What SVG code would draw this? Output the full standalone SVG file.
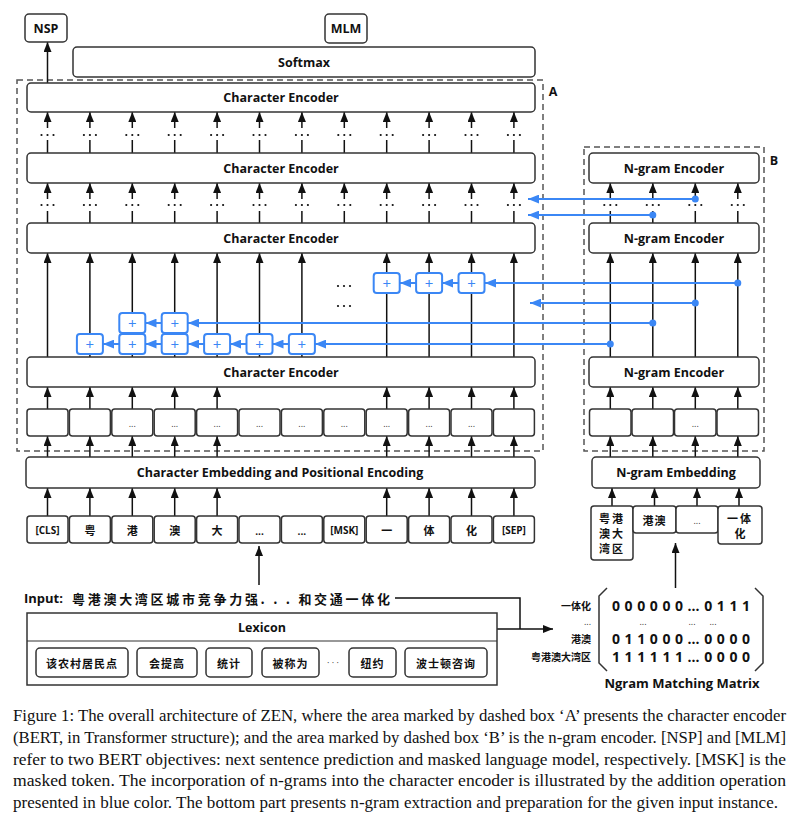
<svg xmlns="http://www.w3.org/2000/svg" width="798" height="813" viewBox="0 0 798 813">
<defs>
<marker id="ah" viewBox="0 0 10 8" refX="10" refY="4" markerWidth="10" markerHeight="8" markerUnits="userSpaceOnUse" orient="auto"><path d="M0,0L10,4L0,8z" fill="#111"/></marker>
<marker id="bh" viewBox="0 0 10 8" refX="10" refY="4" markerWidth="11" markerHeight="9" markerUnits="userSpaceOnUse" orient="auto"><path d="M0,0L10,4L0,8z" fill="#3b87f5"/></marker>
</defs>
<style>
.box{fill:#fff;stroke:#333;stroke-width:1.5}
.dash{fill:none;stroke:#555;stroke-width:1.5;stroke-dasharray:6 4}
.ln{stroke:#111;stroke-width:1.5;fill:none}
.ar{stroke:#111;stroke-width:1.5;fill:none;marker-end:url(#ah)}
.ba{stroke:#3b87f5;stroke-width:2;fill:none;marker-end:url(#bh)}
.pb{fill:#fff;stroke:#3b87f5;stroke-width:2}
.pt{font-family:"Open Sans","Noto Sans",sans-serif;font-size:15px;fill:#3b87f5;text-anchor:middle;dominant-baseline:central}
.dot{fill:#111}
.bd{fill:#3b87f5}
.t{font-family:"Open Sans","Noto Sans",sans-serif;font-weight:700;font-size:12.5px;fill:#111;text-anchor:middle;dominant-baseline:central}
.s{font-family:"Open Sans","Noto Sans",sans-serif;font-weight:700;font-size:10px;fill:#111;text-anchor:middle;dominant-baseline:central}
.e{font-family:"Open Sans","Noto Sans",sans-serif;font-size:9px;fill:#333;text-anchor:middle;dominant-baseline:central}
.c{font-family:"Noto Sans CJK SC","Noto Sans",sans-serif;font-weight:700;font-size:11px;fill:#111;text-anchor:middle;dominant-baseline:central}
.m{font-family:"Open Sans","Noto Sans",sans-serif;font-weight:700;font-size:14px;fill:#111;dominant-baseline:central}
.cap{font-family:"Liberation Serif","Times New Roman",serif;font-size:16px;fill:#111}
</style>

<!-- dashed areas -->
<g id="areaA"><rect class="dash" x="17" y="80" width="526" height="371"/><text class="t" x="553" y="91">A</text></g>
<g id="areaB"><rect class="dash" x="584" y="147" width="180" height="304"/><text class="t" x="774" y="160">B</text></g>

<!-- connectors -->
<g id="connectors">
<line class="ar" x1="47.5" y1="83" x2="47.5" y2="42"/>
<path class="ln" d="M47.5,153V140M89.9,153V140M132.3,153V140M174.7,153V140M217.1,153V140M259.5,153V140M301.9,153V140M344.3,153V140M386.7,153V140M429.1,153V140M471.5,153V140M513.9,153V140"/>
<line class="ar" x1="47.5" y1="128" x2="47.5" y2="112"/>
<line class="ar" x1="89.9" y1="128" x2="89.9" y2="112"/>
<line class="ar" x1="132.3" y1="128" x2="132.3" y2="112"/>
<line class="ar" x1="174.7" y1="128" x2="174.7" y2="112"/>
<line class="ar" x1="217.1" y1="128" x2="217.1" y2="112"/>
<line class="ar" x1="259.5" y1="128" x2="259.5" y2="112"/>
<line class="ar" x1="301.9" y1="128" x2="301.9" y2="112"/>
<line class="ar" x1="344.3" y1="128" x2="344.3" y2="112"/>
<line class="ar" x1="386.7" y1="128" x2="386.7" y2="112"/>
<line class="ar" x1="429.1" y1="128" x2="429.1" y2="112"/>
<line class="ar" x1="471.5" y1="128" x2="471.5" y2="112"/>
<line class="ar" x1="513.9" y1="128" x2="513.9" y2="112"/>
<path class="ln" d="M47.5,223V211M89.9,223V211M132.3,223V211M174.7,223V211M217.1,223V211M259.5,223V211M301.9,223V211M344.3,223V211M386.7,223V211M429.1,223V211M471.5,223V211M513.9,223V211M610.3,223V211M652.8,223V211M695.3,223V211M737.8,223V211"/>
<line class="ar" x1="47.5" y1="199" x2="47.5" y2="183"/>
<line class="ar" x1="89.9" y1="199" x2="89.9" y2="183"/>
<line class="ar" x1="132.3" y1="199" x2="132.3" y2="183"/>
<line class="ar" x1="174.7" y1="199" x2="174.7" y2="183"/>
<line class="ar" x1="217.1" y1="199" x2="217.1" y2="183"/>
<line class="ar" x1="259.5" y1="199" x2="259.5" y2="183"/>
<line class="ar" x1="301.9" y1="199" x2="301.9" y2="183"/>
<line class="ar" x1="344.3" y1="199" x2="344.3" y2="183"/>
<line class="ar" x1="386.7" y1="199" x2="386.7" y2="183"/>
<line class="ar" x1="429.1" y1="199" x2="429.1" y2="183"/>
<line class="ar" x1="471.5" y1="199" x2="471.5" y2="183"/>
<line class="ar" x1="513.9" y1="199" x2="513.9" y2="183"/>
<line class="ar" x1="610.3" y1="199" x2="610.3" y2="183"/>
<line class="ar" x1="652.8" y1="199" x2="652.8" y2="183"/>
<line class="ar" x1="695.3" y1="199" x2="695.3" y2="183"/>
<line class="ar" x1="737.8" y1="199" x2="737.8" y2="183"/>
<line class="ar" x1="47.5" y1="357" x2="47.5" y2="253"/>
<line class="ar" x1="89.9" y1="357" x2="89.9" y2="253"/>
<line class="ar" x1="132.3" y1="357" x2="132.3" y2="253"/>
<line class="ar" x1="174.7" y1="357" x2="174.7" y2="253"/>
<line class="ar" x1="217.1" y1="357" x2="217.1" y2="253"/>
<line class="ar" x1="259.5" y1="357" x2="259.5" y2="253"/>
<line class="ar" x1="301.9" y1="357" x2="301.9" y2="253"/>
<line class="ar" x1="386.7" y1="357" x2="386.7" y2="253"/>
<line class="ar" x1="429.1" y1="357" x2="429.1" y2="253"/>
<line class="ar" x1="471.5" y1="357" x2="471.5" y2="253"/>
<line class="ar" x1="513.9" y1="357" x2="513.9" y2="253"/>
<line class="ar" x1="610.3" y1="357" x2="610.3" y2="253"/>
<line class="ar" x1="652.8" y1="357" x2="652.8" y2="253"/>
<line class="ar" x1="695.3" y1="357" x2="695.3" y2="253"/>
<line class="ar" x1="737.8" y1="357" x2="737.8" y2="253"/>
<path class="ar" d="M47.5,409V387"/><path class="ar" d="M47.5,457V436"/><path class="ar" d="M47.5,516V488"/>
<path class="ar" d="M89.9,409V387"/><path class="ar" d="M89.9,457V436"/><path class="ar" d="M89.9,516V488"/>
<path class="ar" d="M132.3,409V387"/><path class="ar" d="M132.3,457V436"/><path class="ar" d="M132.3,516V488"/>
<path class="ar" d="M174.7,409V387"/><path class="ar" d="M174.7,457V436"/><path class="ar" d="M174.7,516V488"/>
<path class="ar" d="M217.1,409V387"/><path class="ar" d="M217.1,457V436"/><path class="ar" d="M217.1,516V488"/>
<path class="ar" d="M386.7,409V387"/><path class="ar" d="M386.7,457V436"/><path class="ar" d="M386.7,516V488"/>
<path class="ar" d="M429.1,409V387"/><path class="ar" d="M429.1,457V436"/><path class="ar" d="M429.1,516V488"/>
<path class="ar" d="M471.5,409V387"/><path class="ar" d="M471.5,457V436"/><path class="ar" d="M471.5,516V488"/>
<path class="ar" d="M513.9,409V387"/><path class="ar" d="M513.9,457V436"/><path class="ar" d="M513.9,516V488"/>
<path class="ar" d="M610.3,409V387"/><path class="ar" d="M610.3,457V436"/><path class="ar" d="M612,506V488"/>
<path class="ar" d="M652.8,409V387"/><path class="ar" d="M652.8,457V436"/><path class="ar" d="M654.5,506V488"/>
<path class="ar" d="M695.3,409V387"/><path class="ar" d="M695.3,457V436"/><path class="ar" d="M697,506V488"/>
<path class="ar" d="M737.8,409V387"/><path class="ar" d="M737.8,457V436"/><path class="ar" d="M739,506V488"/>
<path class="ar" d="M259,585V546"/>
<path class="ar" d="M675.5,588V543"/>
<path class="ln" d="M395,598H520V629M497,629H520"/>
<path class="ar" d="M520,629H553"/>
</g>

<!-- ellipsis dots -->
<g id="dots" class="dot">
<circle cx="41.5" cy="135" r="1.1"/><circle cx="47.5" cy="135" r="1.1"/><circle cx="53.5" cy="135" r="1.1"/>
<circle cx="83.9" cy="135" r="1.1"/><circle cx="89.9" cy="135" r="1.1"/><circle cx="95.9" cy="135" r="1.1"/>
<circle cx="126.3" cy="135" r="1.1"/><circle cx="132.3" cy="135" r="1.1"/><circle cx="138.3" cy="135" r="1.1"/>
<circle cx="168.7" cy="135" r="1.1"/><circle cx="174.7" cy="135" r="1.1"/><circle cx="180.7" cy="135" r="1.1"/>
<circle cx="211.1" cy="135" r="1.1"/><circle cx="217.1" cy="135" r="1.1"/><circle cx="223.1" cy="135" r="1.1"/>
<circle cx="253.5" cy="135" r="1.1"/><circle cx="259.5" cy="135" r="1.1"/><circle cx="265.5" cy="135" r="1.1"/>
<circle cx="295.9" cy="135" r="1.1"/><circle cx="301.9" cy="135" r="1.1"/><circle cx="307.9" cy="135" r="1.1"/>
<circle cx="338.3" cy="135" r="1.1"/><circle cx="344.3" cy="135" r="1.1"/><circle cx="350.3" cy="135" r="1.1"/>
<circle cx="380.7" cy="135" r="1.1"/><circle cx="386.7" cy="135" r="1.1"/><circle cx="392.7" cy="135" r="1.1"/>
<circle cx="423.1" cy="135" r="1.1"/><circle cx="429.1" cy="135" r="1.1"/><circle cx="435.1" cy="135" r="1.1"/>
<circle cx="465.5" cy="135" r="1.1"/><circle cx="471.5" cy="135" r="1.1"/><circle cx="477.5" cy="135" r="1.1"/>
<circle cx="507.9" cy="135" r="1.1"/><circle cx="513.9" cy="135" r="1.1"/><circle cx="519.9" cy="135" r="1.1"/>
<circle cx="41.5" cy="205" r="1.1"/><circle cx="47.5" cy="205" r="1.1"/><circle cx="53.5" cy="205" r="1.1"/>
<circle cx="83.9" cy="205" r="1.1"/><circle cx="89.9" cy="205" r="1.1"/><circle cx="95.9" cy="205" r="1.1"/>
<circle cx="126.3" cy="205" r="1.1"/><circle cx="132.3" cy="205" r="1.1"/><circle cx="138.3" cy="205" r="1.1"/>
<circle cx="168.7" cy="205" r="1.1"/><circle cx="174.7" cy="205" r="1.1"/><circle cx="180.7" cy="205" r="1.1"/>
<circle cx="211.1" cy="205" r="1.1"/><circle cx="217.1" cy="205" r="1.1"/><circle cx="223.1" cy="205" r="1.1"/>
<circle cx="253.5" cy="205" r="1.1"/><circle cx="259.5" cy="205" r="1.1"/><circle cx="265.5" cy="205" r="1.1"/>
<circle cx="295.9" cy="205" r="1.1"/><circle cx="301.9" cy="205" r="1.1"/><circle cx="307.9" cy="205" r="1.1"/>
<circle cx="338.3" cy="205" r="1.1"/><circle cx="344.3" cy="205" r="1.1"/><circle cx="350.3" cy="205" r="1.1"/>
<circle cx="380.7" cy="205" r="1.1"/><circle cx="386.7" cy="205" r="1.1"/><circle cx="392.7" cy="205" r="1.1"/>
<circle cx="423.1" cy="205" r="1.1"/><circle cx="429.1" cy="205" r="1.1"/><circle cx="435.1" cy="205" r="1.1"/>
<circle cx="465.5" cy="205" r="1.1"/><circle cx="471.5" cy="205" r="1.1"/><circle cx="477.5" cy="205" r="1.1"/>
<circle cx="507.9" cy="205" r="1.1"/><circle cx="513.9" cy="205" r="1.1"/><circle cx="519.9" cy="205" r="1.1"/>
<circle cx="604.3" cy="205" r="1.1"/><circle cx="610.3" cy="205" r="1.1"/><circle cx="616.3" cy="205" r="1.1"/>
<circle cx="646.8" cy="205" r="1.1"/><circle cx="652.8" cy="205" r="1.1"/><circle cx="658.8" cy="205" r="1.1"/>
<circle cx="689.3" cy="205" r="1.1"/><circle cx="695.3" cy="205" r="1.1"/><circle cx="701.3" cy="205" r="1.1"/>
<circle cx="731.8" cy="205" r="1.1"/><circle cx="737.8" cy="205" r="1.1"/><circle cx="743.8" cy="205" r="1.1"/>
<circle cx="338" cy="286" r="1.1"/><circle cx="344" cy="286" r="1.1"/><circle cx="350" cy="286" r="1.1"/>
<circle cx="338" cy="306" r="1.1"/><circle cx="344" cy="306" r="1.1"/><circle cx="350" cy="306" r="1.1"/>
</g>

<!-- top outputs -->
<g id="nsp"><rect class="box" x="25" y="14" width="42" height="28" rx="4"/><text class="t" x="46" y="28">NSP</text></g>
<g id="mlm"><rect class="box" x="325" y="14" width="42" height="29" rx="4"/><text class="t" x="346" y="28.5">MLM</text></g>
<g id="softmax"><rect class="box" x="73" y="47" width="462" height="30" rx="4"/><text class="t" x="304" y="62">Softmax</text></g>

<!-- character encoders -->
<g id="charEnc4"><rect class="box" x="27" y="83" width="508" height="29" rx="4"/><text class="t" x="281" y="97.5">Character Encoder</text></g>
<g id="charEnc3"><rect class="box" x="27" y="153" width="508" height="30" rx="4"/><text class="t" x="281" y="168">Character Encoder</text></g>
<g id="charEnc2"><rect class="box" x="27" y="223" width="508" height="30" rx="4"/><text class="t" x="281" y="238">Character Encoder</text></g>
<g id="charEnc1"><rect class="box" x="27" y="357" width="508" height="30" rx="4"/><text class="t" x="281" y="372">Character Encoder</text></g>

<!-- n-gram encoders -->
<g id="ngEnc3"><rect class="box" x="589" y="153" width="170" height="30" rx="4"/><text class="t" x="674" y="168">N-gram Encoder</text></g>
<g id="ngEnc2"><rect class="box" x="589" y="223" width="170" height="30" rx="4"/><text class="t" x="674" y="238">N-gram Encoder</text></g>
<g id="ngEnc1"><rect class="box" x="589" y="357" width="170" height="30" rx="4"/><text class="t" x="674" y="372">N-gram Encoder</text></g>

<!-- hidden row -->
<g id="hiddenRow">
<rect class="box" x="27" y="409" width="41" height="27" rx="3"/>
<rect class="box" x="69.4" y="409" width="41" height="27" rx="3"/>
<rect class="box" x="111.8" y="409" width="41" height="27" rx="3"/><text class="e" x="132.3" y="423">...</text>
<rect class="box" x="154.2" y="409" width="41" height="27" rx="3"/><text class="e" x="174.7" y="423">...</text>
<rect class="box" x="196.6" y="409" width="41" height="27" rx="3"/><text class="e" x="217.1" y="423">...</text>
<rect class="box" x="239" y="409" width="41" height="27" rx="3"/><text class="e" x="259.5" y="423">...</text>
<rect class="box" x="281.4" y="409" width="41" height="27" rx="3"/><text class="e" x="301.9" y="423">...</text>
<rect class="box" x="323.8" y="409" width="41" height="27" rx="3"/><text class="e" x="344.3" y="423">...</text>
<rect class="box" x="366.2" y="409" width="41" height="27" rx="3"/><text class="e" x="386.7" y="423">...</text>
<rect class="box" x="408.6" y="409" width="41" height="27" rx="3"/><text class="e" x="429.1" y="423">...</text>
<rect class="box" x="451" y="409" width="41" height="27" rx="3"/><text class="e" x="471.5" y="423">...</text>
<rect class="box" x="493.4" y="409" width="41" height="27" rx="3"/>
</g>
<g id="ngHiddenRow">
<rect class="box" x="589.5" y="409" width="41.5" height="27" rx="3"/>
<rect class="box" x="632" y="409" width="41.5" height="27" rx="3"/>
<rect class="box" x="674.5" y="409" width="41.5" height="27" rx="3"/><text class="e" x="695.3" y="423">...</text>
<rect class="box" x="717" y="409" width="41.5" height="27" rx="3"/>
</g>

<!-- embeddings -->
<g id="charEmb"><rect class="box" x="26" y="457" width="509" height="31" rx="4"/><text class="t" x="280" y="472.5">Character Embedding and Positional Encoding</text></g>
<g id="ngEmb"><rect class="box" x="592" y="457" width="168" height="31" rx="4"/><text class="t" x="676" y="472.5">N-gram Embedding</text></g>

<!-- input tokens -->
<g id="tokens">
<rect class="box" x="27" y="516" width="41" height="27" rx="3"/><text class="s" x="47.5" y="529.5">[CLS]</text>
<rect class="box" x="69.4" y="516" width="41" height="27" rx="3"/><text class="c" x="89.9" y="529.5">粤</text>
<rect class="box" x="111.8" y="516" width="41" height="27" rx="3"/><text class="c" x="132.3" y="529.5">港</text>
<rect class="box" x="154.2" y="516" width="41" height="27" rx="3"/><text class="c" x="174.7" y="529.5">澳</text>
<rect class="box" x="196.6" y="516" width="41" height="27" rx="3"/><text class="c" x="217.1" y="529.5">大</text>
<rect class="box" x="239" y="516" width="41" height="27" rx="3"/><text class="s" x="259.5" y="531">...</text>
<rect class="box" x="281.4" y="516" width="41" height="27" rx="3"/><text class="s" x="301.9" y="531">...</text>
<rect class="box" x="323.8" y="516" width="41" height="27" rx="3"/><text class="s" x="344.3" y="529.5">[MSK]</text>
<rect class="box" x="366.2" y="516" width="41" height="27" rx="3"/><text class="c" x="386.7" y="529.5">一</text>
<rect class="box" x="408.6" y="516" width="41" height="27" rx="3"/><text class="c" x="429.1" y="529.5">体</text>
<rect class="box" x="451" y="516" width="41" height="27" rx="3"/><text class="c" x="471.5" y="529.5">化</text>
<rect class="box" x="493.4" y="516" width="41" height="27" rx="3"/><text class="s" x="513.9" y="529.5">[SEP]</text>
</g>

<!-- n-gram tokens -->
<g id="ngTokens">
<rect class="box" x="591" y="506" width="42" height="54" rx="3"/>
<text class="c" x="612" y="518" letter-spacing="2">粤港</text><text class="c" x="612" y="533" letter-spacing="2">澳大</text><text class="c" x="612" y="548" letter-spacing="2">湾区</text>
<rect class="box" x="633" y="506" width="43" height="27" rx="3"/><text class="c" x="654.5" y="519.5" letter-spacing="1">港澳</text>
<rect class="box" x="676" y="506" width="42" height="27" rx="3"/><text class="e" x="697" y="520">...</text>
<rect class="box" x="718" y="506" width="44" height="38" rx="3"/>
<text class="c" x="740" y="518" letter-spacing="2">一体</text><text class="c" x="740" y="533">化</text>
</g>

<!-- input sentence -->
<g id="input">
<text class="t" x="24" y="598" style="text-anchor:start;font-size:13px">Input:</text>
<text class="c" x="72" y="598" style="text-anchor:start;font-size:13px" textLength="318" lengthAdjust="spacing">粤港澳大湾区城市竞争力强. . . 和交通一体化</text>
</g>

<!-- lexicon -->
<g id="lexicon">
<rect x="27" y="613" width="470" height="72" fill="#fff" stroke="#333" stroke-width="1.5"/>
<line x1="27" y1="641" x2="497" y2="641" stroke="#333" stroke-width="1.2"/>
<text class="t" x="262" y="627">Lexicon</text>
<rect class="box" x="36" y="648" width="92" height="29" rx="4"/><text class="c" x="82" y="662.5" letter-spacing="1">该农村居民点</text>
<rect class="box" x="137" y="648" width="60" height="29" rx="4"/><text class="c" x="167" y="662.5" letter-spacing="1">会提高</text>
<rect class="box" x="206" y="648" width="46" height="29" rx="4"/><text class="c" x="229" y="662.5" letter-spacing="1">统计</text>
<rect class="box" x="262" y="648" width="57" height="29" rx="4"/><text class="c" x="290.5" y="662.5" letter-spacing="1">被称为</text>
<text class="e" x="333" y="662">· · ·</text>
<rect class="box" x="349" y="648" width="47" height="29" rx="4"/><text class="c" x="372.5" y="662.5" letter-spacing="1">纽约</text>
<rect class="box" x="405" y="648" width="82" height="29" rx="4"/><text class="c" x="446" y="662.5" letter-spacing="1">波士顿咨询</text>
</g>

<!-- matching matrix -->
<g id="matrix">
<text class="c" x="591" y="605" style="text-anchor:end;font-size:10px">一体化</text>
<text class="e" x="591" y="621" style="text-anchor:end">...</text>
<text class="c" x="591" y="638" style="text-anchor:end;font-size:10px">港澳</text>
<text class="c" x="591" y="656" style="text-anchor:end;font-size:10px">粤港澳大湾区</text>
<path d="M607,588L599,596V663L607,671" fill="none" stroke="#333" stroke-width="1.5"/>
<path d="M755,588L763,596V663L755,671" fill="none" stroke="#333" stroke-width="1.5"/>
<text class="m" x="612" y="605" textLength="138" lengthAdjust="spacing">000000…0111</text>
<text class="e" x="643" y="621">...</text><text class="e" x="692" y="621">...</text><text class="e" x="713" y="621">...</text>
<text class="m" x="612" y="638" textLength="138" lengthAdjust="spacing">011000…0000</text>
<text class="m" x="612" y="656" textLength="138" lengthAdjust="spacing">111111…0000</text>
<text class="t" x="682" y="683" style="font-size:13px">Ngram Matching Matrix</text>
</g>

<!-- blue n-gram incorporation -->
<g id="blueLinks">
<path class="ba" d="M695.3,199H528"/>
<path class="ba" d="M652.8,215H528"/>
<path class="ba" d="M737.8,283H485"/>
<path class="ba" d="M458.5,283H442"/>
<path class="ba" d="M416,283H400"/>
<path class="ba" d="M695.3,303H530"/>
<path class="ba" d="M652.8,323H188"/>
<path class="ba" d="M161.5,323H145.5"/>
<path class="ba" d="M610.3,344H315"/>
<path class="ba" d="M289,344H272.5"/>
<path class="ba" d="M246.5,344H230"/>
<path class="ba" d="M204,344H188"/>
<path class="ba" d="M161.5,344H145.5"/>
<path class="ba" d="M119.3,344H103"/>
<circle class="bd" cx="695.3" cy="199" r="3.5"/>
<circle class="bd" cx="652.8" cy="215" r="3.5"/>
<circle class="bd" cx="737.8" cy="283" r="3.5"/>
<circle class="bd" cx="695.3" cy="303" r="3.5"/>
<circle class="bd" cx="652.8" cy="323" r="3.5"/>
<circle class="bd" cx="610.3" cy="344" r="3.5"/>
</g>
<g id="plusBoxes">
<rect class="pb" x="373.7" y="273" width="26" height="20" rx="3"/><text class="pt" x="386.7" y="282.5">+</text>
<rect class="pb" x="416.1" y="273" width="26" height="20" rx="3"/><text class="pt" x="429.1" y="282.5">+</text>
<rect class="pb" x="458.5" y="273" width="26" height="20" rx="3"/><text class="pt" x="471.5" y="282.5">+</text>
<rect class="pb" x="119.3" y="313" width="26" height="20" rx="3"/><text class="pt" x="132.3" y="322.5">+</text>
<rect class="pb" x="161.7" y="313" width="26" height="20" rx="3"/><text class="pt" x="174.7" y="322.5">+</text>
<rect class="pb" x="76.9" y="334" width="26" height="20" rx="3"/><text class="pt" x="89.9" y="343.5">+</text>
<rect class="pb" x="119.3" y="334" width="26" height="20" rx="3"/><text class="pt" x="132.3" y="343.5">+</text>
<rect class="pb" x="161.7" y="334" width="26" height="20" rx="3"/><text class="pt" x="174.7" y="343.5">+</text>
<rect class="pb" x="204.1" y="334" width="26" height="20" rx="3"/><text class="pt" x="217.1" y="343.5">+</text>
<rect class="pb" x="246.5" y="334" width="26" height="20" rx="3"/><text class="pt" x="259.5" y="343.5">+</text>
<rect class="pb" x="288.9" y="334" width="26" height="20" rx="3"/><text class="pt" x="301.9" y="343.5">+</text>
</g>

<!-- caption -->
<g id="caption" class="cap">
<text x="13" y="721" textLength="773" lengthAdjust="spacingAndGlyphs">Figure 1: The overall architecture of ZEN, where the area marked by dashed box ‘A’ presents the character encoder</text>
<text x="13" y="743" textLength="773" lengthAdjust="spacingAndGlyphs">(BERT, in Transformer structure); and the area marked by dashed box ‘B’ is the n-gram encoder. [NSP] and [MLM]</text>
<text x="13" y="765" textLength="773" lengthAdjust="spacingAndGlyphs">refer to two BERT objectives: next sentence prediction and masked language model, respectively. [MSK] is the</text>
<text x="13" y="786" textLength="773" lengthAdjust="spacingAndGlyphs">masked token. The incorporation of n-grams into the character encoder is illustrated by the addition operation</text>
<text x="13" y="808" textLength="765" lengthAdjust="spacingAndGlyphs">presented in blue color. The bottom part presents n-gram extraction and preparation for the given input instance.</text>
</g>
</svg>
